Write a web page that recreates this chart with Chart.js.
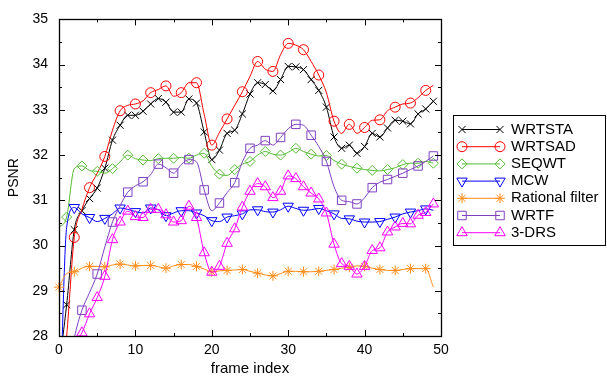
<!DOCTYPE html>
<html><head><meta charset="utf-8">
<script src="https://cdn.jsdelivr.net/npm/chart.js@4/dist/chart.umd.min.js"></script>
<style>html,body{margin:0;padding:0;background:#fff;}#wrap{width:607px;height:379px;position:relative;}</style>
</head><body><div id="wrap"><canvas id="c"></canvas></div>
<script>
const frameIndex = [0,1,2,3,4,5,6,7,8,9,10,11,12,13,14,15,16,17,18,19,20,21,22,23,24,25,26,27,28,29,30,31,32,33,34,35,36,37,38,39,40,41,42,43,44,45,46,47,48,49];
const xTickValues = [0,10,20,30,40,50];
const yTickValues = [28,29,30,31,32,33,34,35];
const seriesNames = ["WRTSTA","WRTSAD","SEQWT","MCW","Rational filter","WRTF","3-DRS"];

const wrtsta = [27.3,28.69,30.35,30.77,31.04,31.27,31.71,32.33,32.66,32.88,32.88,32.97,33.13,33.25,33.17,32.95,32.95,33.24,33.15,32.51,31.90,32.11,32.48,32.55,32.91,33.35,33.60,33.56,33.42,33.67,33.96,33.95,33.89,33.67,33.43,33.06,32.40,32.15,32.22,32.04,32.19,32.48,32.40,32.60,32.77,32.75,32.69,32.91,33.02,33.19];
const wrtsad = [26.5,28.0,30.18,30.8,31.28,31.6,31.97,32.55,32.98,33.1,33.13,33.2,33.38,33.45,33.53,33.3,33.38,33.6,33.6,32.9,32.22,32.5,32.8,33.1,33.4,33.74,34.07,33.9,33.85,34.22,34.47,34.43,34.33,34.07,33.77,33.38,32.75,32.48,32.68,32.48,32.61,32.77,32.78,32.98,33.06,33.13,33.15,33.27,33.43,33.54];
const seqwt = [30.4,30.63,31.7,31.76,31.66,31.64,31.6,31.7,31.85,32.0,31.92,31.89,31.88,31.92,31.93,31.93,31.95,31.93,32.0,32.04,31.75,31.58,31.55,31.68,31.8,31.86,32.0,32.08,32.02,32.0,32.06,32.15,32.08,32.02,31.98,31.99,31.88,31.8,31.75,31.71,31.68,31.66,31.65,31.68,31.72,31.79,31.82,31.82,31.86,31.82];
const mcw = [25.5,30.4,30.84,30.7,30.62,30.53,30.6,30.7,30.83,30.8,30.75,30.72,30.83,30.79,30.66,30.72,30.77,30.77,30.72,30.66,30.55,30.53,30.63,30.66,30.7,30.79,30.79,30.75,30.74,30.79,30.87,30.82,30.78,30.79,30.82,30.77,30.7,30.6,30.59,30.54,30.52,30.52,30.53,30.58,30.63,30.7,30.74,30.77,30.81,30.78];
const rational = [29.08,29.38,29.42,29.5,29.54,29.54,29.53,29.57,29.59,29.57,29.55,29.56,29.56,29.53,29.5,29.55,29.58,29.58,29.54,29.48,29.42,29.44,29.45,29.46,29.47,29.43,29.39,29.35,29.33,29.38,29.43,29.43,29.42,29.42,29.43,29.45,29.47,29.5,29.52,29.55,29.54,29.5,29.47,29.45,29.45,29.47,29.49,29.49,29.49,29.08];
const wrtf = [25.5,26.9,27.95,28.57,28.96,29.37,29.97,30.52,30.88,31.18,31.32,31.41,31.57,31.8,31.72,31.6,31.79,31.9,31.85,31.23,30.77,30.94,31.17,31.39,31.85,32.15,32.22,32.32,32.22,32.39,32.58,32.68,32.66,32.44,32.19,31.86,31.3,31.0,30.97,30.92,31.06,31.28,31.4,31.46,31.53,31.6,31.68,31.76,31.86,31.98];
const drs3 = [27.0,27.4,27.8,28.07,28.49,28.85,29.32,30.13,30.52,30.76,30.64,30.62,30.8,30.8,30.68,30.52,30.55,30.87,30.62,29.84,29.41,29.54,30.05,30.37,30.85,31.2,31.37,31.3,31.06,31.2,31.54,31.48,31.3,31.16,31.03,30.72,30.03,29.6,29.54,29.37,29.54,29.89,29.95,30.3,30.41,30.49,30.48,30.67,30.73,30.92];

const FONT = "'Liberation Sans', Arial, Helvetica, sans-serif";
// style: color, point style, radius, rotation, marker parity (-1 every frame, 0 even, 1 odd)
const styles = [
  {color:'#000000', ps:'crossRot', r:5, rot:0, every:-1},
  {color:'#ff0000', ps:'circle', r:5, rot:0, every:0},
  {color:'#55bb33', ps:'rectRot', r:5, rot:0, every:1},
  {color:'#0000ff', ps:'triangle', r:6, rot:180, every:0},
  {color:'#ff8c1a', ps:'star', r:5, rot:0, every:0},
  {color:'#7f40c0', ps:'rect', r:6, rot:0, every:1},
  {color:'#ff00ff', ps:'triangle', r:6, rot:0, every:-1}
];
const allSeries = [wrtsta, wrtsad, seqwt, mcw, rational, wrtf, drs3];

const datasets = allSeries.map((vals, k) => {
  const s = styles[k];
  return {
    label: seriesNames[k],
    data: vals.map((v, i) => ({x: frameIndex[i], y: v})),
    borderColor: s.color,
    backgroundColor: 'rgba(0,0,0,0)',
    pointBorderColor: s.color,
    pointBackgroundColor: 'rgba(0,0,0,0)',
    borderWidth: 1,
    pointBorderWidth: 1,
    pointStyle: s.ps,
    pointRotation: s.rot,
    pointRadius: (ctx) => (s.every < 0 || ctx.dataIndex % 2 === s.every) ? s.r : 0,
    pointHoverRadius: 0,
    cubicInterpolationMode: 'monotone',
    fill: false,
    clip: {left: 10, right: 10, top: 10, bottom: 0},
    order: 10 - k
  };
});

const frameTicks = {
  id: 'frameTicks',
  afterDraw(chart) {
    const {ctx, chartArea: a, scales: {x, y}} = chart;
    ctx.save();
    ctx.strokeStyle = '#000';
    ctx.lineWidth = 1;
    ctx.beginPath();
    for (let v = 0; v <= 50; v += 5) {
      const px = Math.round(x.getPixelForValue(v)) + 0.5;
      const len = (v % 10 === 0) ? 6 : 3;
      ctx.moveTo(px, a.bottom); ctx.lineTo(px, a.bottom - len);
      ctx.moveTo(px, a.top); ctx.lineTo(px, a.top + len);
    }
    for (let v = 28; v <= 35.001; v += 0.5) {
      const py = Math.round(y.getPixelForValue(v)) + 0.5;
      const len = (Math.abs(v - Math.round(v)) < 1e-6) ? 6 : 3;
      ctx.moveTo(a.left, py); ctx.lineTo(a.left + len, py);
      ctx.moveTo(a.right, py); ctx.lineTo(a.right - len, py);
    }
    ctx.stroke();
    ctx.lineWidth = 1.3;
    ctx.strokeRect(Math.round(a.left) + 0.5, Math.round(a.top) + 0.5, Math.round(a.right - a.left), Math.round(a.bottom - a.top));
    ctx.restore();
  }
};

const boxLegend = {
  id: 'boxLegend',
  afterDraw(chart) {
    const {ctx, chartArea: a} = chart;
    const left = Math.round(a.right) + 12.5, top = 115.5, w = 152, h = 130;
    ctx.save();
    ctx.fillStyle = '#fff';
    ctx.fillRect(left, top, w, h);
    ctx.strokeStyle = '#000'; ctx.lineWidth = 1;
    ctx.strokeRect(left, top, w, h);
    chart.data.datasets.forEach((ds, i) => {
      const s = styles[i];
      const yy = 129.5 + i * 17.2;
      const x1 = left + 8.5, x2 = left + 46.5;
      ctx.strokeStyle = s.color; ctx.lineWidth = 1;
      ctx.beginPath(); ctx.moveTo(x1, yy); ctx.lineTo(x2, yy); ctx.stroke();
      ctx.fillStyle = 'rgba(0,0,0,0)';
      const o = {pointStyle: s.ps, rotation: s.rot, radius: s.r, borderWidth: 1};
      Chart.helpers.drawPoint(ctx, o, x1, yy);
      Chart.helpers.drawPoint(ctx, o, x2, yy);
      ctx.fillStyle = '#000';
      ctx.font = '15px ' + FONT;
      ctx.textBaseline = 'middle';
      ctx.textAlign = 'left';
      ctx.fillText(ds.label, left + 57.5, yy);
    });
    ctx.restore();
  }
};

new Chart(document.getElementById('c'), {
  type: 'line',
  data: {datasets},
  options: {
    responsive: true,
    maintainAspectRatio: false,
    animation: false,
    events: [],
    layout: {padding: {left: 0, right: 166, top: 14, bottom: 0}},
    plugins: {legend: {display: false}, tooltip: {enabled: false}},
    scales: {
      x: {
        type: 'linear', min: 0, max: 50,
        afterBuildTicks: (axis) => { axis.ticks = xTickValues.map(v => ({value: v})); },
        afterFit: (axis) => { axis.height = 43; },
        grid: {display: false, drawTicks: false},
        border: {display: false},
        ticks: {color: '#000', padding: 6, font: {family: FONT, size: 14}, maxRotation: 0, autoSkip: false},
        title: {display: true, text: 'frame index', color: '#000', font: {family: FONT, size: 15}, padding: {top: 0, bottom: 1}}
      },
      y: {
        type: 'linear', min: 28, max: 35,
        afterBuildTicks: (axis) => { axis.ticks = yTickValues.map(v => ({value: v})); },
        afterFit: (axis) => { axis.width = 59; },
        grid: {display: false, drawTicks: false},
        border: {display: false},
        ticks: {color: '#000', padding: 11, font: {family: FONT, size: 14}},
        title: {display: true, text: 'PSNR', color: '#000', font: {family: FONT, size: 14}, padding: {top: 6, bottom: 0}}
      }
    }
  },
  plugins: [frameTicks, boxLegend]
});
</script>
</body></html>
